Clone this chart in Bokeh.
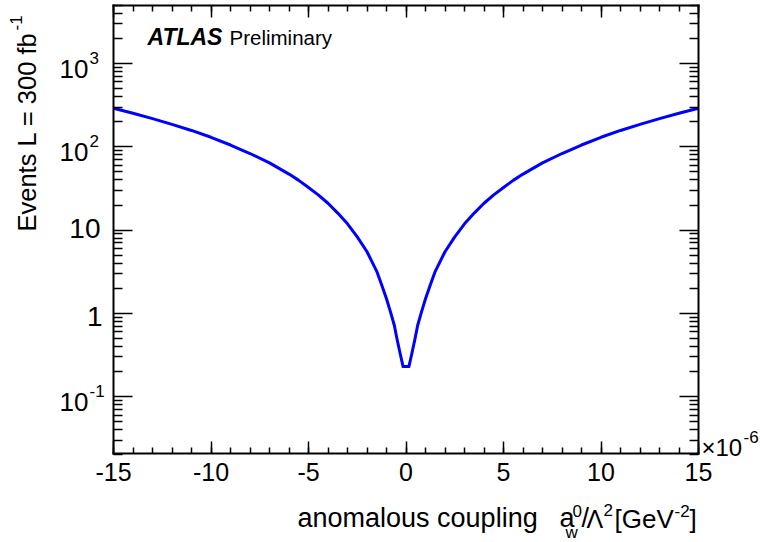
import math
from bokeh.plotting import figure
from bokeh.models import (Label, FixedTicker, LogAxis, LinearAxis, Range1d,
                          CustomJSTickFormatter, ColumnDataSource)
from bokeh.embed import file_html
from bokeh.resources import INLINE

# ---------------- data ----------------
coupling = [-15, -14, -13, -12, -11, -10, -9, -8, -7, -6, -5.5, -5, -4.5, -4,
            -3.5, -3, -2.5, -2, -1.5, -1.25, -1, -0.8, -0.6, -0.45, -0.3, -0.15,
            0.15, 0.3, 0.45, 0.6, 0.8, 1, 1.25, 1.5, 2, 2.5, 3, 3.5, 4, 4.5, 5,
            5.5, 6, 7, 8, 9, 10, 11, 12, 13, 14, 15]
events = [290, 253, 218, 186, 157, 130, 105, 83, 64, 47, 39.5, 32.5, 26.5, 21,
          16, 11.9, 8.3, 5.5, 3.2, 2.2, 1.5, 1.05, 0.72, 0.48, 0.33, 0.23,
          0.23, 0.33, 0.48, 0.72, 1.05, 1.5, 2.2, 3.2, 5.5, 8.3, 11.9, 16, 21,
          26.5, 32.5, 39.5, 47, 64, 83, 105, 130, 157, 186, 218, 253, 290]

x_ticks = [-15, -10, -5, 0, 5, 10, 15]
x_minor = list(range(-15, 16))
y_ticks = [0.1, 1, 10, 100, 1000]
y_tick_base = ["10", "1", "10", "10", "10"]
y_tick_exp = ["-1", "", "", "2", "3"]
y_minor = [m * 10.0 ** e for e in range(-2, 4) for m in range(2, 10)]

# ---------------- layout ----------------
W, H = 765, 542
BOX_L, BOX_R, BOX_T, BOX_B = 113, 698, 5, 453
X_LO, X_HI = -15, 15
Y_LO, Y_HI = 0.0208, 4965
FONT = "Liberation Sans"
K = 0.26  # baseline correction (fraction of font size)

xs = (BOX_R - BOX_L) / (X_HI - X_LO)
ly = (BOX_B - BOX_T) / (math.log10(Y_HI) - math.log10(Y_LO))
x_range = Range1d(X_LO - BOX_L / xs, X_HI + (W - BOX_R) / xs)
y_range = Range1d(10 ** (math.log10(Y_LO) - (H - BOX_B) / ly),
                  10 ** (math.log10(Y_HI) + BOX_T / ly))

p = figure(width=W, height=H, output_backend="svg", toolbar_location=None,
           x_range=x_range, y_range=y_range, y_axis_type="log",
           min_border_left=0, min_border_right=0, min_border_top=0,
           min_border_bottom=0)
p.grid.visible = False
p.outline_line_color = None
p.background_fill_color = "white"
p.border_fill_color = "white"

src = ColumnDataSource(dict(x=coupling, y=events))
p.line("x", "y", source=src, line_color="#0000ff", line_width=3,
       line_join="round")

blank = CustomJSTickFormatter(code="return ''")
plain = CustomJSTickFormatter(code="return tick.toFixed(0)")

def style_axis(ax, major_len, minor_len):
    ax.axis_line_color = "black"
    ax.axis_line_width = 2
    ax.axis_line_cap = "square"
    ax.major_tick_in = major_len
    ax.major_tick_out = 0
    ax.minor_tick_in = minor_len
    ax.minor_tick_out = 0
    ax.major_tick_line_width = 1.5
    ax.minor_tick_line_width = 1.5
    ax.major_tick_line_color = "black"
    ax.minor_tick_line_color = "black"

# bottom axis (native labels)
xa = p.xaxis[0]
xa.ticker = FixedTicker(ticks=x_ticks, minor_ticks=x_minor)
xa.formatter = plain
xa.fixed_location = Y_LO
xa.bounds = (X_LO, X_HI)
style_axis(xa, 12, 6)
xa.major_label_text_font = FONT
xa.major_label_text_font_size = "25px"
xa.major_label_text_color = "black"
xa.major_label_standoff = 9

# left axis
ya = p.yaxis[0]
ya.ticker = FixedTicker(ticks=y_ticks, minor_ticks=y_minor)
ya.formatter = blank
ya.fixed_location = X_LO
ya.bounds = (Y_LO, Y_HI)
style_axis(ya, 19, 9)
ya.major_label_standoff = 0

# mirrored axes
top = LinearAxis(ticker=FixedTicker(ticks=x_ticks, minor_ticks=x_minor),
                 formatter=blank, fixed_location=Y_HI, bounds=(X_LO, X_HI))
style_axis(top, 12, 6)
top.major_label_standoff = 0
p.add_layout(top, "above")

right = LogAxis(ticker=FixedTicker(ticks=y_ticks, minor_ticks=y_minor),
                formatter=blank, fixed_location=X_HI, bounds=(Y_LO, Y_HI))
style_axis(right, 19, 9)
right.major_label_standoff = 0
p.add_layout(right, "right")

def lab(text, px, py, size, align="left", rotated=False, style="normal",
        ydata=None, yo=0):
    corr = K * size
    if rotated:
        px = px - corr
    if ydata is None:
        kw = dict(y=H - py + (0 if rotated else corr), y_units="screen")
    else:
        kw = dict(y=ydata, y_units="data", y_offset=yo + corr)
    p.add_layout(Label(text=text, x=px, x_units="screen",
                       angle=math.pi / 2 if rotated else 0,
                       text_font=FONT, text_font_size=f"{size}px",
                       text_font_style=style, text_color="black",
                       text_align=align, text_baseline="alphabetic", **kw))

# y tick labels with superscripts
for val, base, ex in zip(y_ticks, y_tick_base, y_tick_exp):
    if ex:
        lab(base, 88, 0, 26, align="right", ydata=val, yo=-12)
        lab(ex, 89, 0, 17, ydata=val, yo=1)
    elif base == "10":
        lab(base, 100, 0, 28, align="right", ydata=val, yo=-6)
    else:
        lab(base, 102, 0, 28, align="right", ydata=val, yo=-10)

# x10^-6 multiplier
lab("\u00d710", 701, 453, 24)
lab("-6", 743, 441, 17)

# ATLAS Preliminary
lab("ATLAS", 147, 42, 23, style="bold italic")
lab("Preliminary", 229, 42, 20.5)

# y axis title (rotated)
lab("Events L = 300 fb", 33, 231, 25.5, rotated=True)
lab("-1", 20, 30, 17, rotated=True)

# x axis title with sub/superscripts
lab("anomalous coupling", 297, 525, 27)
lab("a", 559, 525, 27)
lab("w", 565, 536, 17)
lab("0", 572, 515, 17)
lab("/", 581, 525, 27)
lab("\u039b", 586, 525, 25)
lab("2", 603, 514, 17)
lab("[GeV", 614, 525, 26)
lab("-2", 674, 515, 17)
lab("]", 689, 525, 26)

open("out.html", "w").write(file_html(p, INLINE))
